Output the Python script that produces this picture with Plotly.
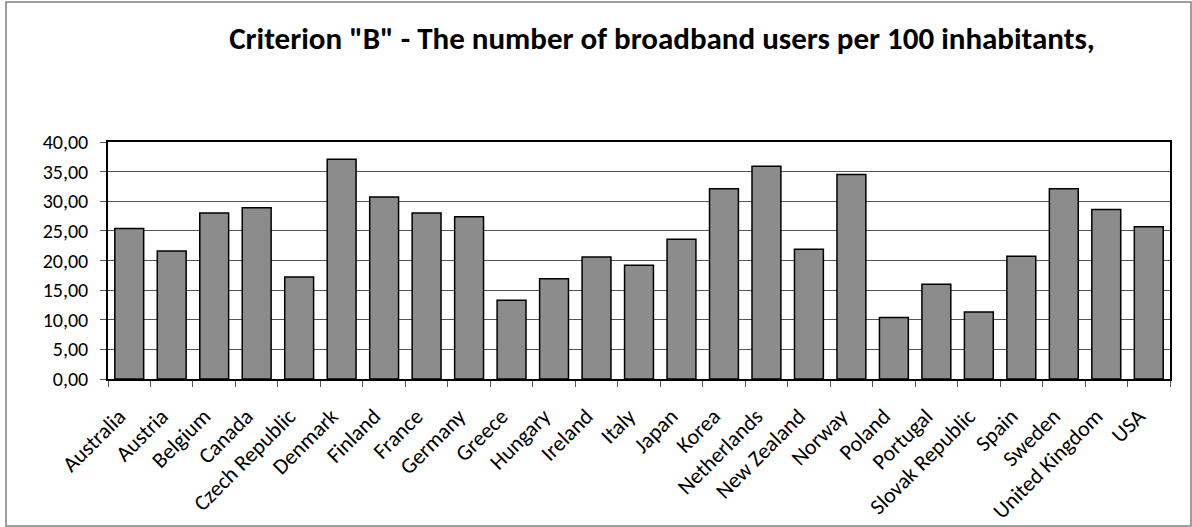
import plotly.graph_objects as go

# Broadband users per 100 inhabitants by country
countries = [
    "Australia", "Austria", "Belgium", "Canada", "Czech Republic", "Denmark",
    "Finland", "France", "Germany", "Greece", "Hungary", "Ireland", "Italy",
    "Japan", "Korea", "Netherlands", "New Zealand", "Norway", "Poland",
    "Portugal", "Slovak Republic", "Spain", "Sweden", "United Kingdom", "USA",
]
users_per_100 = [
    25.4, 21.6, 28.0, 28.9, 17.2, 37.1,
    30.7, 28.0, 27.4, 13.3, 16.9, 20.6, 19.2,
    23.6, 32.1, 35.9, 21.9, 34.5, 10.4,
    16.0, 11.3, 20.7, 32.1, 28.6, 25.7,
]
y_ticks = [0, 5, 10, 15, 20, 25, 30, 35, 40]

W, H = 1192, 527
ML, MR, MT, MB = 108, 22, 142, 148
pw, ph = W - ML - MR, H - MT - MB

fig = go.Figure(
    go.Bar(
        x=countries,
        y=users_per_100,
        marker=dict(color="#8c8c8c", line=dict(color="#000000", width=1.5)),
        hoverinfo="x+y",
    )
)

fig.update_layout(
    width=W,
    height=H,
    margin=dict(l=ML, r=MR, t=MT, b=MB, pad=0, autoexpand=False),
    paper_bgcolor="white",
    plot_bgcolor="white",
    separators=",.",
    bargap=0.32,
    showlegend=False,
    font=dict(family="Carlito, Lato, 'Open Sans', sans-serif", color="#000000"),
    title=dict(
        text='<b>Criterion "B" - The number of broadband users per 100 inhabitants,</b>',
        font=dict(size=31, color="#000000"),
        x=662 / W,
        xanchor="center",
        y=1 - 38 / H,
        yanchor="middle",
    ),
)

fig.update_xaxes(
    type="category",
    automargin=False,
    tickangle=-45,
    tickfont=dict(size=22),
    showline=True,
    linecolor="#000000",
    linewidth=1.5,
    mirror=True,
    ticks="outside",
    tickson="boundaries",
    ticklen=6,
    tickcolor="#555555",
    ticklabelstandoff=14,
    ticklabelshift=-10,
    showgrid=False,
)

fig.update_yaxes(
    range=[0, 40],
    automargin=False,
    tickvals=y_ticks,
    tickformat=".2f",
    tickfont=dict(size=20),
    showline=True,
    linecolor="#000000",
    linewidth=1.5,
    mirror=True,
    ticks="outside",
    ticklen=6,
    tickcolor="#555555",
    ticklabelstandoff=8,
    showgrid=True,
    gridcolor="#555555",
    gridwidth=1,
    zeroline=False,
)

# Outer chart frame
fig.add_shape(
    type="rect",
    xref="paper", yref="paper",
    x0=-(ML - 6) / pw, x1=1 + (MR - 1) / pw,
    y0=-(MB - 1) / ph, y1=1 + (MT - 2) / ph,
    line=dict(color="#7f7f7f", width=1.5),
    fillcolor="rgba(0,0,0,0)",
    layer="below",
)

fig.write_html("out.html")
